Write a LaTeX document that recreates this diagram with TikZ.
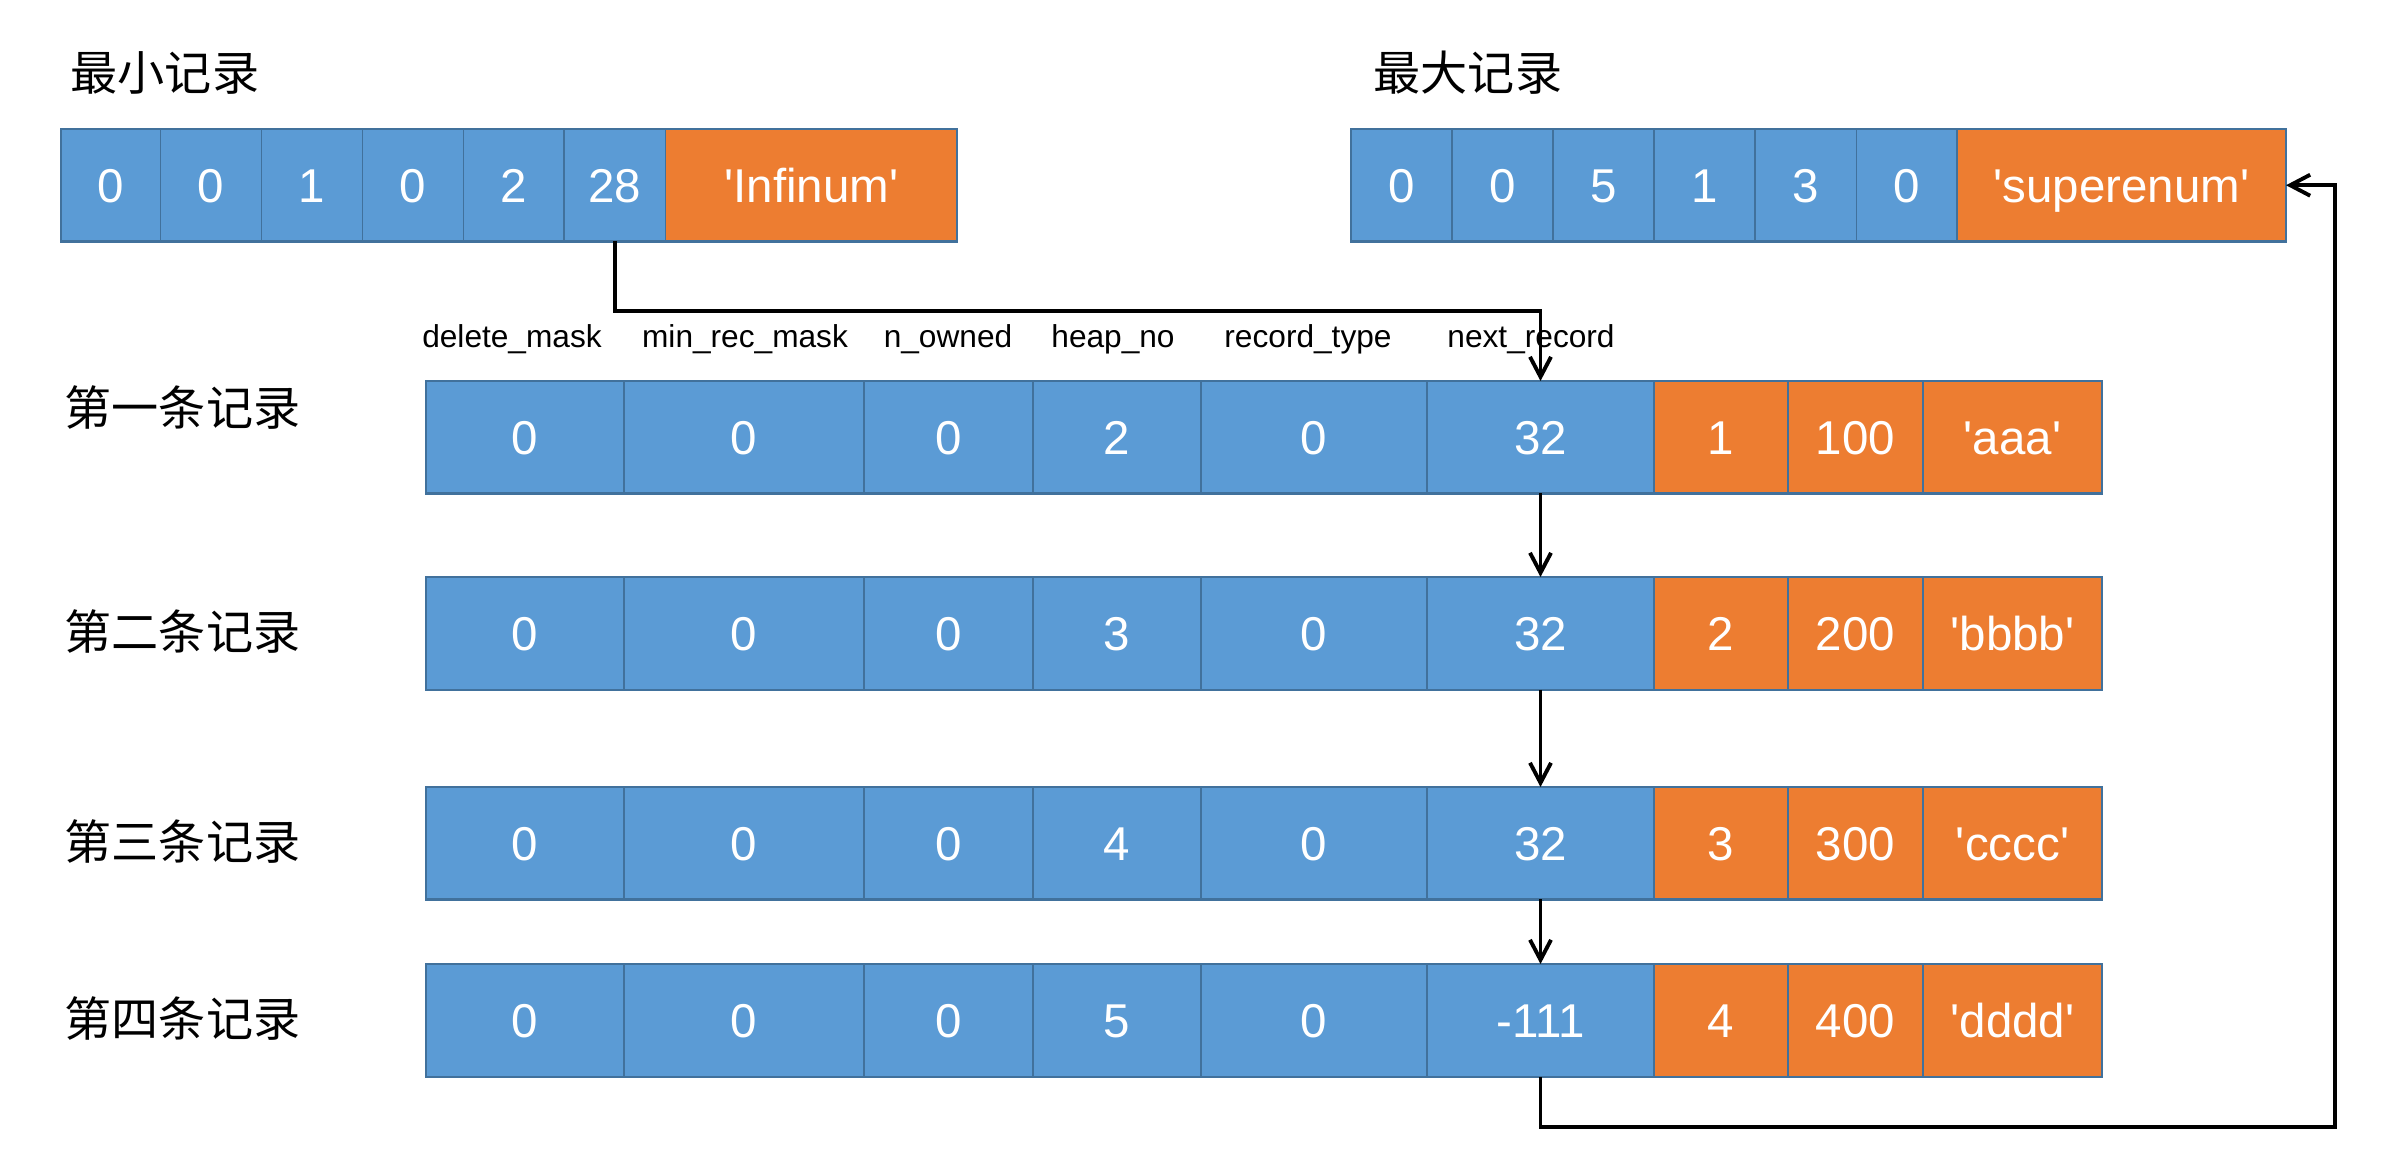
\documentclass[tikz,border=0pt]{standalone}
\usepackage{fontspec}
\setmainfont{Liberation Sans}[Ligatures=TeXOff]
\newfontfamily\cjk{Noto Sans CJK SC}
\usetikzlibrary{arrows.meta}
\definecolor{cblue}{HTML}{5B9BD5}
\definecolor{corange}{HTML}{ED7D31}
\definecolor{cedge}{HTML}{41719C}
\newcommand\cellnode[7]{% name, style, x1, x2, y1, y2, text
  \node[#2, minimum width={(#4-#3)*0.01cm}, minimum height={(#6-#5)*0.01cm}] (#1) at ({(#3+#4)/2},{(#5+#6)/2}) {#7};}
\newcommand\recrow[8]{% row, ytop, ybot, heap, next, o1, o2, o3
  \cellnode{r#1c1}{bluecell}{426}{624}{#2}{#3}{0}
  \cellnode{r#1c2}{bluecell}{624}{864}{#2}{#3}{0}
  \cellnode{r#1c3}{bluecell}{864}{1033}{#2}{#3}{0}
  \cellnode{r#1c4}{bluecell}{1033}{1201}{#2}{#3}{#4}
  \cellnode{r#1c5}{bluecell}{1201}{1427}{#2}{#3}{0}
  \cellnode{r#1c6}{bluecell}{1427}{1654}{#2}{#3}{#5}
  \cellnode{r#1c7}{orangecell}{1654}{1788}{#2}{#3}{#6}
  \cellnode{r#1c8}{orangecell}{1788}{1923}{#2}{#3}{#7}
  \cellnode{r#1c9}{orangecell}{1923}{2102}{#2}{#3}{#8}
  \draw[outer] (r#1c1.north west) rectangle (r#1c9.south east);}
\begin{document}
\begin{tikzpicture}[x=0.01cm,y=-0.01cm,
  cell/.style={draw=cedge, line width=0.35pt, inner sep=0pt, outer sep=0pt, text=white,
    font=\fontsize{13.5}{16}\selectfont, text height=9.7pt, text depth=0pt},
  bluecell/.style={cell, fill=cblue},
  orangecell/.style={cell, fill=corange},
  outer/.style={draw=cedge, line width=0.7pt},
  hdr/.style={font=\fontsize{9}{11}\selectfont, inner sep=0pt, anchor=base},
  title/.style={font=\cjk\fontsize{13.4}{16}\selectfont, inner sep=0pt, anchor=west},
  link/.style={line width=1.1pt, -{Straight Barb[length=0.2cm, width=0.21cm]}},
  ]
\useasboundingbox[fill=white] (0,0) rectangle (2388,1174);

% titles
\node[title] (tmin) at (70,73) {最小记录};
\node[title] (tmax) at (1373,73) {最大记录};

% top-left record (infimum)
\cellnode{tl1}{bluecell}{61}{160.5}{129}{241.5}{0}
\cellnode{tl2}{bluecell}{160.5}{261.5}{129}{241.5}{0}
\cellnode{tl3}{bluecell}{261.5}{362.5}{129}{241.5}{1}
\cellnode{tl4}{bluecell}{362.5}{463.5}{129}{241.5}{0}
\cellnode{tl5}{bluecell}{463.5}{564}{129}{241.5}{2}
\cellnode{tl6}{bluecell}{564}{665.5}{129}{241.5}{28}
\cellnode{tl7}{orangecell}{665.5}{957}{129}{241.5}{'Infinum'}
\draw[outer] (tl1.north west) rectangle (tl7.south east);

% top-right record (supremum)
\cellnode{tr1}{bluecell}{1351}{1452}{129}{241.5}{0}
\cellnode{tr2}{bluecell}{1452}{1553}{129}{241.5}{0}
\cellnode{tr3}{bluecell}{1553}{1654}{129}{241.5}{5}
\cellnode{tr4}{bluecell}{1654}{1755}{129}{241.5}{1}
\cellnode{tr5}{bluecell}{1755}{1856.5}{129}{241.5}{3}
\cellnode{tr6}{bluecell}{1856.5}{1957}{129}{241.5}{0}
\cellnode{tr7}{orangecell}{1957}{2286}{129}{241.5}{'superenum'}
\draw[outer] (tr1.north west) rectangle (tr7.south east);

% column headers
\node[hdr] (h1) at (512,348) {delete\_mask};
\node[hdr] (h2) at (745,348) {min\_rec\_mask};
\node[hdr] (h3) at (948,348) {n\_owned};
\node[hdr] (h4) at (1113,348) {heap\_no};
\node[hdr] (h5) at (1308,348) {record\_type};
\node[hdr] (h6) at (1531,348) {next\_record};

% row labels
\node[title] (l1) at (64,408) {第一条记录};
\node[title] (l2) at (64,632) {第二条记录};
\node[title] (l3) at (64,842) {第三条记录};
\node[title] (l4) at (64,1019) {第四条记录};

% records
\recrow{1}{381}{493.5}{2}{32}{1}{100}{'aaa'}
\recrow{2}{577}{690}{3}{32}{2}{200}{'bbbb'}
\recrow{3}{787}{899.5}{4}{32}{3}{300}{'cccc'}
\recrow{4}{964}{1077}{5}{-111}{4}{400}{'dddd'}

% connectors
\coordinate (k1) at (1540.5,311);
\coordinate (k2) at (2335,1127);
\draw[link] (tl6.south) |- (k1) -- (r1c6.north);
\draw[link] (r1c6.south) -- (r2c6.north);
\draw[link] (r2c6.south) -- (r3c6.north);
\draw[link] (r3c6.south) -- (r4c6.north);
\draw[link] (r4c6.south) |- (k2) |- (tr7.east);
\end{tikzpicture}
\end{document}
